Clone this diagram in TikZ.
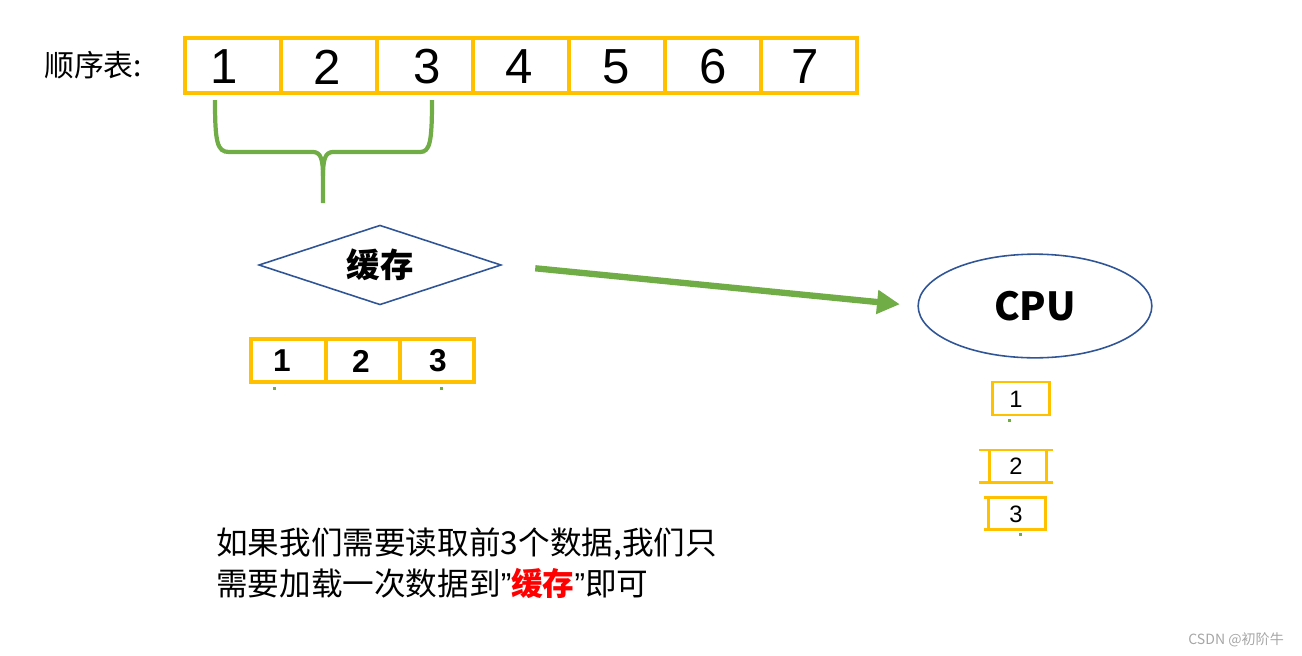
\documentclass[tikz,border=0pt]{standalone}
\usepackage{fontspec}
\setmainfont{Liberation Sans}
\newfontfamily\cjk{Noto Sans CJK SC}
\usetikzlibrary{arrows.meta,shapes.geometric}
\definecolor{cellyellow}{HTML}{FFC000}
\definecolor{bracegreen}{HTML}{70AD47}
\definecolor{shapeblue}{HTML}{2F5597}
\definecolor{markgray}{HTML}{A6A6A6}

\begin{document}
\begin{tikzpicture}[x=.02cm,y=-.02cm,>=Stealth,
  cell/.style={draw=cellyellow,line width=2.3pt},
  smallcell/.style={draw=cellyellow,line width=1.7pt},
  brace/.style={draw=bracegreen,line width=2.4pt},
  outline/.style={draw=shapeblue,line width=.9pt,inner sep=0pt},
  dot/.style={fill=bracegreen}]
  \useasboundingbox (0,0) rectangle (1302,656);

  \node[anchor=west,font=\cjk\fontsize{17}{20}\selectfont] (title) at (38,65) {顺序表:};
  \draw[cell] (185,38) rectangle (857,93);
  \foreach \x in {281,377,...,761}
    \draw[cell] (\x,38) -- (\x,93);
  \foreach \x/\n in {224/1,327/2,427/3,519/4,616/5,713/6,805/7}
    \node[font=\fontsize{28}{30}\selectfont] (top\n) at (\x,67) {\n};

  \draw[brace] (215,100) .. controls (215,142) and (217,152) .. (229,152) -- (313,152)
    .. controls (321,152) and (323,160) .. (323,176) -- (323,203);
  \draw[brace] (323,176) .. controls (323,160) and (325,152) .. (333,152) -- (420,152)
    .. controls (430,152) and (432,142) .. (432,100);

  \node[diamond,outline,aspect=3,minimum width=138pt,minimum height=45.4pt,
    font=\cjk\bfseries\fontsize{19}{20}\selectfont] (cache) at (380,265) {缓存\hspace{4pt}};
  \node[ellipse,outline,minimum width=133pt,minimum height=59pt,
    font=\cjk\bfseries\fontsize{22}{24}\selectfont] (cpu) at (1035,306) {CPU};
  \draw[draw=bracegreen,line width=3.6pt,-{Triangle[length=13pt,width=13pt]},
    shorten <=19pt,shorten >=10pt] (cache.east) -- (cpu.west);

  \draw[cell] (251,339) rectangle (474,382);
  \draw[cell] (326,339) -- (326,382) (400,339) -- (400,382);
  \foreach \x/\n in {282/1,361/2,438/3}
    \node[font=\bfseries\fontsize{18}{20}\selectfont] (mid\n) at (\x,361) {\n};

  \draw[smallcell] (992,382) rectangle (1049,415);
  \draw[smallcell] (979,450) -- (1053,450) (979,482) -- (1053,482)
    (989,450) -- (989,482) (1046,450) -- (1046,482);
  \draw[smallcell] (984,497) -- (1047,497) (984,529) -- (1047,529)
    (988,497) -- (988,529) (1045,497) -- (1045,529);
  \foreach \y/\n in {399/1,466/2,514/3}
    \node[font=\fontsize{13.5}{15}\selectfont] (cpu\n) at (1016,\y) {\n};

  \foreach \x/\y in {274/388,441/388,1009/420,1020/534}
    \fill[dot] (\x-1.5,\y-1.5) rectangle (\x+1.5,\y+1.5);

  \node[anchor=west,font=\cjk\fontsize{18}{20}\selectfont] (line1) at (210,544)
    {如果我们需要读取前3个数据,我们只};
  \node[anchor=west,font=\cjk\fontsize{18}{20}\selectfont] (line2) at (210,583)
    {需要加载一次数据到{\rmfamily ”}{\bfseries\color{red}缓存}{\rmfamily ”}即可};
  \node[anchor=east,text=markgray,font=\cjk\fontsize{8}{9}\selectfont] (mark) at (1290,640)
    {CSDN @初阶牛};
\end{tikzpicture}
\end{document}
